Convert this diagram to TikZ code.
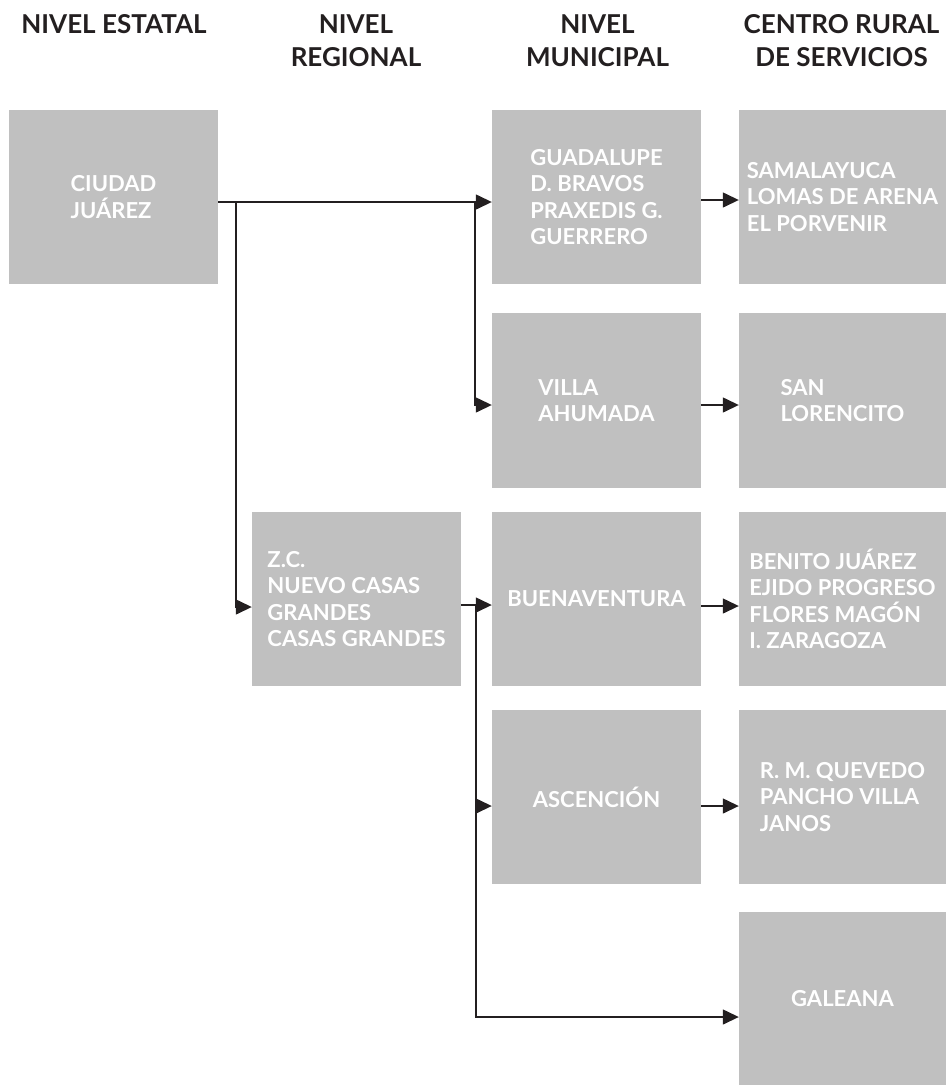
\documentclass[tikz,border=0pt]{standalone}
\usepackage{fontspec}
\setmainfont{Lato}
\usetikzlibrary{arrows.meta}
\definecolor{gris}{RGB}{192,192,192}
\definecolor{tinta}{RGB}{35,31,32}
\tikzset{
    boxnode/.style = {rectangle, fill=gris, draw=none, inner sep=0pt, minimum width=209pt, minimum height=174pt, align=left, text=white, font=\bfseries\fontsize{22}{26.5}\selectfont},
    boxnoder/.style = {boxnode, minimum width=207pt},
    headnode/.style = {align=center, text=tinta, font=\bfseries\fontsize{26}{33}\selectfont},
    edgen/.style = {-{Triangle[length=16pt,width=15pt]}, line width=1.4pt, tinta},
}

\begin{document}
\begin{tikzpicture}[x=1pt,y=-1pt]
\path[use as bounding box] (0,0) rectangle (946,1085);
%
\node[headnode] (h1) at (114,24) {NIVEL ESTATAL};
\node[headnode] (h2) at (356,41) {NIVEL\\REGIONAL};
\node[headnode] (h3) at (597.5,41) {NIVEL\\MUNICIPAL};
\node[headnode] (h4) at (841.5,41) {CENTRO RURAL\\DE SERVICIOS};
%
\node[boxnode] (ciudad) at (113.5,197) {CIUDAD\\JUÁREZ};
\node[boxnode] (guad) at (596.5,197) {GUADALUPE\\D. BRAVOS\\PRAXEDIS G.\\GUERRERO};
\node[boxnoder] (sama) at (842.5,197) {SAMALAYUCA\\LOMAS DE ARENA\\EL PORVENIR};
\node[boxnode, minimum height=175pt] (villa) at (596.5,400.5) {VILLA\\AHUMADA};
\node[boxnoder, minimum height=175pt] (sanlor) at (842.5,400.5) {SAN\\LORENCITO};
\node[boxnode] (zc) at (356.5,599) {Z.C.\\NUEVO CASAS\\GRANDES\\CASAS GRANDES};
\node[boxnode] (buena) at (596.5,599) {BUENAVENTURA};
\node[boxnoder] (benito) at (842.5,599) {BENITO JUÁREZ\\EJIDO PROGRESO\\FLORES MAGÓN\\I. ZARAGOZA};
\node[boxnode] (asc) at (596.5,797) {ASCENCIÓN};
\node[boxnoder] (rmq) at (842.5,797) {R. M. QUEVEDO\\PANCHO VILLA\\JANOS};
\node[boxnoder, minimum height=173pt] (gal) at (842.5,998.5) {GALEANA};
%
\coordinate (ta) at (236,202);
\coordinate (tb) at (475,202);
\coordinate (tc) at (476,605);
%
\draw[edgen] ([yshift=-5pt]ciudad.east) -- ([yshift=-5pt]guad.west);
\draw[edgen] ([yshift=-3pt]guad.east) -- ([yshift=-3pt]sama.west);
\draw[edgen] (tb) |- ([yshift=-4.5pt]villa.west);
\draw[edgen] ([yshift=-4.5pt]villa.east) -- ([yshift=-4.5pt]sanlor.west);
\draw[edgen] (ta) |- ([yshift=-8pt]zc.west);
\draw[edgen] ([yshift=-6pt]zc.east) -- ([yshift=-6pt]buena.west);
\draw[edgen] ([yshift=-7pt]buena.east) -- ([yshift=-7pt]benito.west);
\draw[edgen] (tc) |- ([yshift=-9pt]asc.west);
\draw[edgen] ([yshift=-9pt]asc.east) -- ([yshift=-9pt]rmq.west);
\draw[edgen] (tc) |- ([yshift=-18.5pt]gal.west);

\end{tikzpicture}
\end{document}
